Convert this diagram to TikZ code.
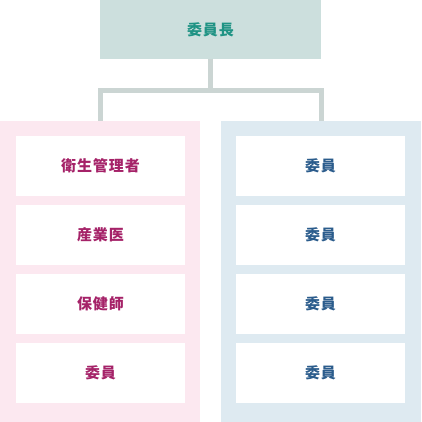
\documentclass[tikz,border=0pt]{standalone}
\usepackage{fontspec}
\setmainfont{Noto Sans CJK JP}[LetterSpace=6]
\usepackage{tikz}
\usetikzlibrary{positioning}
\definecolor{chieffill}{HTML}{CCDFDD}
\definecolor{chieftext}{HTML}{1F9384}
\definecolor{linkgray}{HTML}{CBD5D3}
\definecolor{pinkfill}{HTML}{FCE8F0}
\definecolor{pinktext}{HTML}{A52268}
\definecolor{bluefill}{HTML}{DEEAF1}
\definecolor{bluetext}{HTML}{2B5C8C}
\tikzset{
    base/.style={inner sep=0pt, outer sep=0pt, align=center, font=\fontsize{15}{17}\selectfont\bfseries},
    chief/.style={base, fill=chieffill, text=chieftext, minimum width=221pt, minimum height=59pt},
    panel/.style={inner sep=0pt, outer sep=0pt, minimum width=200pt, minimum height=301pt},
    member/.style={base, fill=white, minimum width=169pt, minimum height=60pt},
    pinkmember/.style={member, text=pinktext},
    bluemember/.style={member, text=bluetext},
    link/.style={line width=5pt, draw=linkgray}
}
\begin{document}
\begin{tikzpicture}[x=1pt, y=-1pt]
        \useasboundingbox (0,0) rectangle (421,422);
        % Nodes
        \node (chief) [chief] at (210.5,29.5) {委員長};
        \node (leftpanel) [panel, fill=pinkfill] at (100,271.5) {};
        \node (rightpanel) [panel, fill=bluefill] at (321,271.5) {};

        \node (hygiene) [pinkmember] at (100.5,166) {衛生管理者};
        \node (doctor) [pinkmember, below=9pt of hygiene] {産業医};
        \node (nurse) [pinkmember, below=9pt of doctor] {保健師};
        \node (memberl) [pinkmember, below=9pt of nurse] {委員};

        \node (membera) [bluemember] at (320.5,166) {委員};
        \node (memberb) [bluemember, below=9pt of membera] {委員};
        \node (memberc) [bluemember, below=9pt of memberb] {委員};
        \node (memberd) [bluemember, below=9pt of memberc] {委員};

        % Links
        \draw [link] (chief.south) -- ++(0,31.5) -| (leftpanel.north);
        \draw [link] (chief.south) -- ++(0,31.5) -| (rightpanel.north);
    \end{tikzpicture}
\end{document}
